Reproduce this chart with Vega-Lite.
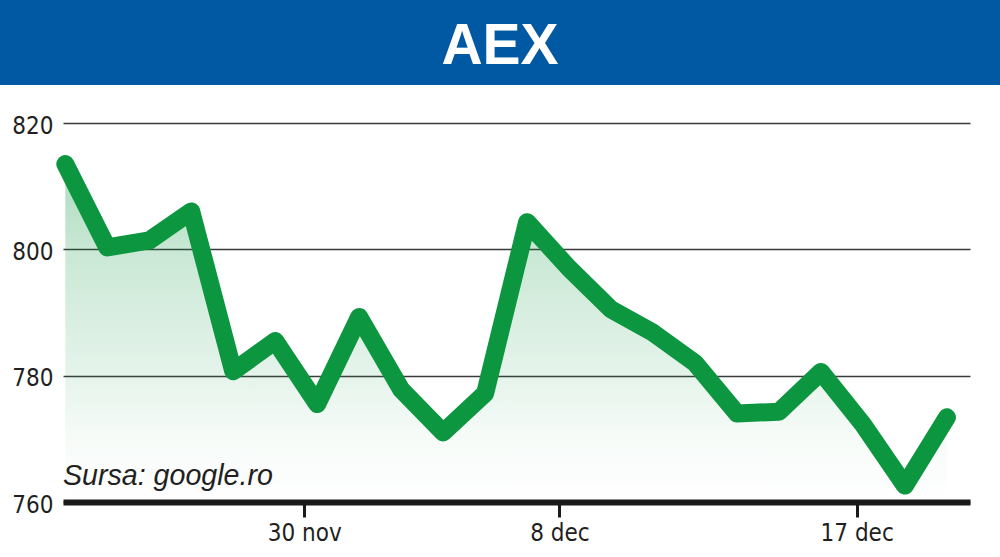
{
  "$schema": "https://vega.github.io/schema/vega-lite/v6.json",
  "padding": 0,
  "background": "#ffffff",
  "spacing": 38,
  "bounds": "flush",
  "config": {
    "view": {"stroke": null},
    "font": "Liberation Sans"
  },
  "datasets": {
    "aex": [
      {"day": 0, "date": "2021-11-22", "value": 813.5},
      {"day": 1, "date": "2021-11-23", "value": 800.3},
      {"day": 2, "date": "2021-11-24", "value": 801.4},
      {"day": 3, "date": "2021-11-25", "value": 806.0},
      {"day": 4, "date": "2021-11-26", "value": 780.7},
      {"day": 5, "date": "2021-11-29", "value": 785.5},
      {"day": 6, "date": "2021-11-30", "value": 775.5},
      {"day": 7, "date": "2021-12-01", "value": 789.3},
      {"day": 8, "date": "2021-12-02", "value": 777.8},
      {"day": 9, "date": "2021-12-03", "value": 771.0},
      {"day": 10, "date": "2021-12-06", "value": 777.2},
      {"day": 11, "date": "2021-12-07", "value": 804.3},
      {"day": 12, "date": "2021-12-08", "value": 797.0},
      {"day": 13, "date": "2021-12-09", "value": 790.5},
      {"day": 14, "date": "2021-12-10", "value": 786.8},
      {"day": 15, "date": "2021-12-13", "value": 782.0},
      {"day": 16, "date": "2021-12-14", "value": 774.0},
      {"day": 17, "date": "2021-12-15", "value": 774.3},
      {"day": 18, "date": "2021-12-16", "value": 780.6},
      {"day": 19, "date": "2021-12-17", "value": 772.3},
      {"day": 20, "date": "2021-12-20", "value": 762.6},
      {"day": 21, "date": "2021-12-21", "value": 773.4}
    ],
    "header": [{"title": "AEX"}],
    "source": [{"note": "Sursa: google.ro", "day": -0.055, "value": 762.7}],
    "empty": []
  },
  "vconcat": [
    {
      "width": 1000,
      "height": 85,
      "view": {"fill": "#0059a2", "stroke": null},
      "data": {"name": "header"},
      "mark": {"type": "text", "font": "Liberation Sans", "fontWeight": "bold", "fontSize": 57, "color": "#ffffff", "dy": 4},
      "encoding": {"text": {"field": "title", "type": "nominal"}}
    },
    {
      "bounds": "flush",
      "spacing": 0,
      "hconcat": [
        {
          "width": 63,
          "height": 379,
          "data": {"name": "empty"},
          "mark": {"type": "point", "opacity": 0},
          "encoding": {}
        },
        {
          "width": 907,
          "height": 379,
          "layer": [
            {
              "data": {"name": "aex"},
              "mark": {
                "type": "area",
                "fill": {
                  "gradient": "linear",
                  "x1": 0, "y1": 0, "x2": 0, "y2": 1,
                  "stops": [
                    {"offset": 0, "color": "rgba(12,150,64,0.34)"},
                    {"offset": 0.26, "color": "rgba(12,150,64,0.22)"},
                    {"offset": 0.64, "color": "rgba(12,150,64,0.10)"},
                    {"offset": 0.8, "color": "rgba(12,150,64,0.04)"},
                    {"offset": 1, "color": "rgba(12,150,64,0.0)"}
                  ]
                }
              },
              "encoding": {
                "x": {
                  "field": "day",
                  "type": "quantitative",
                  "scale": {"domain": [-0.055, 21.55], "nice": false, "zero": false},
                  "axis": {
                    "values": [5.69, 11.77, 18.85],
                    "labelExpr": "datum.value < 8 ? '30 nov' : datum.value < 15 ? '8 dec' : '17 dec'",
                    "title": null,
                    "grid": false,
                    "domainColor": "#1a1a1a",
                    "domainWidth": 6,
                    "tickColor": "#1a1a1a",
                    "tickWidth": 3,
                    "tickSize": 15,
                    "labelPadding": 4,
                    "labelFont": "DejaVu Sans Condensed",
                    "labelFontSize": 24,
                    "labelColor": "#231f20",
                    "labelBaseline": "top"
                  }
                },
                "y": {
                  "field": "value",
                  "type": "quantitative",
                  "scale": {"domain": [760, 820], "nice": false, "zero": false},
                  "axis": {
                    "values": [760, 780, 800, 820],
                    "title": null,
                    "domain": false,
                    "ticks": false,
                    "grid": true,
                    "gridColor": "#3a3a3a",
                    "gridWidth": 1.6,
                    "labelPadding": 10,
                    "labelOffset": 3,
                    "labelFont": "DejaVu Sans Condensed",
                    "labelFontSize": 24,
                    "labelColor": "#231f20"
                  }
                },
                "y2": {"datum": 760}
              }
            },
            {
              "data": {"name": "aex"},
              "mark": {"type": "line", "color": "#0c9640", "strokeWidth": 18, "strokeJoin": "round", "strokeCap": "round"},
              "encoding": {
                "x": {"field": "day", "type": "quantitative"},
                "y": {"field": "value", "type": "quantitative"}
              }
            },
            {
              "data": {"name": "source"},
              "mark": {"type": "text", "align": "left", "baseline": "alphabetic", "font": "Liberation Sans", "fontStyle": "italic", "fontSize": 28.6, "color": "#231f20"},
              "encoding": {
                "x": {"field": "day", "type": "quantitative"},
                "y": {"field": "value", "type": "quantitative"},
                "text": {"field": "note", "type": "nominal"}
              }
            }
          ]
        }
      ]
    }
  ]
}
